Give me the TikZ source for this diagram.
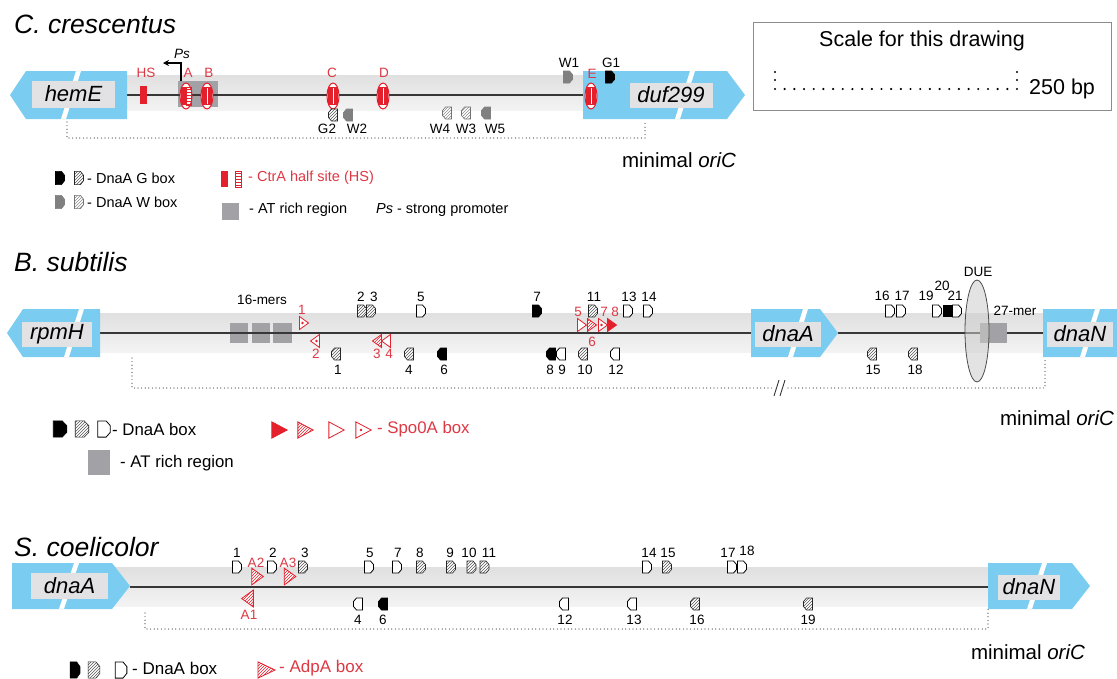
\documentclass[tikz,border=0pt]{standalone}
\usepackage{fontspec}
\setmainfont{Liberation Sans}
\usetikzlibrary{patterns,arrows.meta}
\definecolor{geneblue}{RGB}{122,204,240}
\definecolor{labgray}{RGB}{226,226,228}
\definecolor{bandtop}{RGB}{224,224,224}
\definecolor{bandbot}{RGB}{243,243,243}
\definecolor{atgray}{RGB}{162,162,166}
\definecolor{myred}{RGB}{228,32,44}
\definecolor{redtext}{RGB}{222,56,68}
\definecolor{wgray}{RGB}{128,128,128}
\definecolor{linegray}{RGB}{55,55,55}

\newcommand\bxR[4][]{\draw[#2,shift={(#3,#4)},#1] (-4.5,-6) -- (1.5,-6) -- (4.5,-2.5) -- (4.5,2.5) -- (1.5,6) -- (-4.5,6) -- cycle;}
\newcommand\bxL[4][]{\draw[#2,shift={(#3,#4)},#1] (4.5,-6) -- (-1.5,-6) -- (-4.5,-2.5) -- (-4.5,2.5) -- (-1.5,6) -- (4.5,6) -- cycle;}
\newcommand\trR[4][]{\draw[#2,shift={(#3,#4)},#1] (-4.5,-6.5) -- (4.5,0) -- (-4.5,6.5) -- cycle;}
\newcommand\trL[4][]{\draw[#2,shift={(#3,#4)},#1] (4.5,-6.5) -- (-4.5,0) -- (4.5,6.5) -- cycle;}
\newcommand\tdot[2]{\fill[myred] (#1,#2) circle (1.3pt);}
\newcommand\arrL[4]{\fill[geneblue] (#1,#3) -- ({#1+16},{#3-#4}) -- (#2,{#3-#4}) -- (#2,{#3+#4}) -- ({#1+16},{#3+#4}) -- cycle;}
\newcommand\arrR[4]{\fill[geneblue] (#1,{#3-#4}) -- ({#2-18},{#3-#4}) -- (#2,#3) -- ({#2-18},{#3+#4}) -- (#1,{#3+#4}) -- cycle;}
\newcommand\gcut[3]{\fill[white] (#1,#2) -- ({#1+5},#2) -- ({#1-10},#3) -- ({#1-15},#3) -- cycle;}
\newcommand\ctra[2]{%
  \draw[myred,line width=1pt,fill=white] (#1,#2) ellipse [x radius=6pt,y radius=13pt];
  \fill[myred] ({#1-5},{#2-9}) rectangle ({#1+5},{#2+9});
  \draw[white,line width=0.9pt] (#1,{#2-8}) -- (#1,{#2+8});}
\newcommand\ctraH[2]{%
  \draw[myred,line width=1pt,fill=white] (#1,#2) ellipse [x radius=6pt,y radius=13pt];
  \fill[myred] ({#1-5},{#2-9}) rectangle ({#1-0.5},{#2+9});
  \draw[myred,line width=0.6pt,pattern=horizontal lines,pattern color=myred] ({#1+0.5},{#2-9}) rectangle ({#1+5},{#2+9});}
\newcommand\lb[5][lab]{\node[#1] (#2) at (#3,#4) {#5};}

\begin{document}
\begin{tikzpicture}[x=1pt,y=-1pt,
  title/.style={anchor=base west,inner sep=0,font=\fontsize{26.5}{30}\selectfont\itshape},
  genelab/.style={fill=labgray,inner sep=0,font=\fontsize{22}{26}\selectfont\itshape},
  lab/.style={inner sep=0,font=\fontsize{13.5}{15}\selectfont},
  rlab/.style={lab,text=redtext},
  legC/.style={anchor=west,inner sep=0,font=\fontsize{14.5}{17}\selectfont},
  legB/.style={anchor=west,inner sep=0,font=\fontsize{16.8}{19}\selectfont},
  legS/.style={anchor=west,inner sep=0,font=\fontsize{17}{20}\selectfont},
  mo/.style={inner sep=0,font=\fontsize{20.5}{24}\selectfont},
  scl/.style={inner sep=0,font=\fontsize{21.5}{25}\selectfont},
  dna/.style={linegray,line width=1.6pt},
  dotline/.style={black!75,line width=1.2pt,dash pattern=on 0pt off 3.6pt,line cap=round},
  sA/.style={draw=black,fill=black,line width=0.6pt},
  sH/.style={draw=black!85,line width=0.6pt,preaction={fill=white},pattern=north east lines,pattern color=black!65},
  sO/.style={draw=black,fill=white,line width=0.8pt},
  sW/.style={draw=wgray,fill=wgray,line width=0.6pt},
  sWH/.style={draw=black!55,line width=0.6pt,preaction={fill=white},pattern=north east lines,pattern color=black!45},
  tS/.style={draw=myred,fill=myred,line width=0.8pt},
  tH/.style={draw=myred,line width=0.8pt,preaction={fill=white},pattern=north east lines,pattern color=myred},
  tO/.style={draw=myred,fill=white,line width=0.8pt}]
\useasboundingbox (0,0) rectangle (1117,678);
\clip (0,0) rectangle (1117,678);
\fill[white] (0,0) rectangle (1117,678);

%================ C. crescentus ================
\node[title] (tC) at (14,33) {C. crescentus};
\shade[top color=bandtop,bottom color=bandbot] (120,75) rectangle (590,110);
\fill[atgray] (178,81) rectangle (218,107);
\draw[dna] (127,95) -- (590,95);
\arrL{10}{127}{95}{24}
\gcut{76}{71}{119}
\node[genelab,minimum width=83pt,minimum height=27pt] (hemE) at (73.5,94) {hemE};
\arrR{583}{745}{95}{24}
\gcut{690}{71}{119}
\node[genelab,minimum width=83pt,minimum height=25pt] (duf) at (671,95) {duf299};
\fill[myred] (140,86) rectangle (147,104);
\ctraH{186}{96}
\ctra{207}{96}
\ctra{333}{96}
\ctra{383}{96}
\ctra{591}{96}
\lb[rlab]{cHS}{146}{73}{HS}
\lb[rlab]{cA}{188}{73}{A}
\lb[rlab]{cB}{209}{73}{B}
\lb[rlab]{cC}{332}{73}{C}
\lb[rlab]{cD}{384}{73}{D}
\lb[rlab]{cE}{592}{74}{E}
\draw[black,line width=1.1pt,-{Stealth[length=6pt,width=6pt]}] (181,81) -- (181,63) -- (163,63);
\node[lab,font=\fontsize{13.5}{15}\selectfont\itshape] (Ps) at (182,54) {Ps};
\bxR{sW}{568}{77}
\bxR{sA}{610}{77}
\lb{cW1}{569}{63}{W1}
\lb{cG1}{611}{63}{G1}
\bxL{sH}{333}{115}
\bxL{sW}{348}{115}
\bxL{sWH}{447}{113}
\bxL{sWH}{466}{113}
\bxL{sW}{486}{113}
\lb{cG2}{327}{129}{G2}
\lb{cW2}{357}{129}{W2}
\lb{cW4}{440}{129}{W4}
\lb{cW3}{466}{129}{W3}
\lb{cW5}{495}{129}{W5}
\draw[dotline] (67,122) -- (67,138) -- (645,138) -- (645,120);
\node[mo] (moC) at (679,160) {minimal \textit{oriC}};

% scale box
\draw[black!45,line width=0.8pt] (753,22) rectangle (1111,110);
\node[scl] (sct) at (922,41) {Scale for this drawing};
\foreach \i in {0,...,25} \fill[black] ({775+\i*9.68},89) circle (1.2pt);
\foreach \yy in {72,80} {\fill[black] (775,\yy) circle (1.2pt); \fill[black] (1017,\yy) circle (1.2pt);}
\node[scl,anchor=west] (bp) at (1029,89) {250 bp};

% legend C
\bxR[yscale=1.1]{sA}{60}{178}
\bxR[yscale=1.1]{sH}{79}{178}
\node[legC] (lg1) at (87,178) {- DnaA G box};
\bxR[yscale=1.1]{sW}{60}{202}
\bxR[yscale=1.1]{sWH}{79}{202}
\node[legC] (lg2) at (87,202) {- DnaA W box};
\fill[myred] (221,171) rectangle (228,187);
\draw[myred,line width=0.7pt,pattern=horizontal lines,pattern color=myred] (235,171) rectangle (241,187);
\node[legC,text=redtext] (lg3) at (248,178) {- CtrA half site (HS)};
\fill[atgray] (222,203) rectangle (239,220);
\node[legC] (lg4) at (249,210) {- AT rich region};
\node[legC] (lg5) at (376,210) {\textit{Ps} - strong promoter};

%================ B. subtilis ================
\node[title] (tB) at (14,271) {B. subtilis};
\shade[top color=bandtop,bottom color=bandbot] (100,313) rectangle (1043,352);
\fill[atgray] (230,323) rectangle (248,343);
\fill[atgray] (252,323) rectangle (270,343);
\fill[atgray] (273,323) rectangle (292,343);
\lb{m16}{262}{300}{16-mers}
\draw[dna] (100,333) -- (751,333);
\draw[dna] (838,333) -- (1043,333);
\arrL{7}{100}{333}{24}
\gcut{79}{309}{357}
\node[genelab,minimum width=70pt,minimum height=25pt] (rpmH) at (57,334) {rpmH};
\arrR{751}{838}{333}{24}
\gcut{803}{309}{357}
\node[genelab,minimum width=66pt,minimum height=25pt] (dnaAb) at (788,334) {dnaA};
\arrR{1043}{1140}{333}{24}
\gcut{1095}{309}{357}
\node[genelab,minimum width=66pt,minimum height=25pt] (dnaNb) at (1080,334) {dnaN};
\fill[atgray] (980,323) rectangle (1007,343);
\draw[black!70,line width=0.8pt,fill=gray!40,fill opacity=0.55] (977,331) ellipse [x radius=12pt,y radius=51pt];
\lb{due}{978}{272}{DUE}
\lb{m27}{1015}{311}{27-mer}
% DnaA boxes above
\bxR{sH}{362}{311}
\bxR{sH}{371}{311}
\bxR{sO}{421}{311}
\bxR{sA}{537}{311}
\bxR{sH}{593}{311}
\bxR{sO}{628}{311}
\bxR{sO}{648}{311}
\bxR{sO}{890}{311}
\bxR{sO}{901}{311}
\bxR{sO}{937}{311}
\fill[black] (943,305) rectangle (952,317);
\bxR{sO}{957}{311}
\lb{b2}{361}{297}{2}
\lb{b3}{374}{297}{3}
\lb{b5}{421}{297}{5}
\lb{b7}{537}{297}{7}
\lb{b11}{594}{297}{11}
\lb{b13}{629}{297}{13}
\lb{b14}{649}{297}{14}
\lb{b16}{882}{296}{16}
\lb{b17}{902}{296}{17}
\lb{b19}{926}{296}{19}
\lb{b20}{942}{286}{20}
\lb{b21}{955}{296}{21}
% DnaA boxes below
\bxL{sH}{336}{354}
\bxL{sH}{409}{354}
\bxL{sA}{442}{354}
\bxL{sA}{551}{354}
\bxL{sO}{561}{354}
\bxL{sH}{583}{354}
\bxL{sO}{615}{354}
\bxL{sH}{872}{354}
\bxL{sH}{913}{354}
\lb{b1}{338}{370}{1}
\lb{b4}{409}{370}{4}
\lb{b6}{444}{370}{6}
\lb{b8}{550}{370}{8}
\lb{b9}{562}{370}{9}
\lb{b10}{585}{370}{10}
\lb{b12}{616}{370}{12}
\lb{b15}{873}{370}{15}
\lb{b18}{915}{370}{18}
% Spo0A boxes
\trR{tO}{304}{323} \tdot{302.5}{323}
\trL{tO}{315}{341} \tdot{316.5}{341}
\trL{tH}{377}{341}
\trL{tO}{386}{341}
\trR{tO}{582}{325}
\trR{tH}{592}{325}
\trR{tO}{603}{325} \tdot{601.5}{325}
\trR{tS}{612}{325}
\lb[rlab]{r1}{302}{310}{1}
\lb[rlab]{r2}{316}{354}{2}
\lb[rlab]{r3}{377}{354}{3}
\lb[rlab]{r4}{389}{354}{4}
\lb[rlab]{r5}{578}{312}{5}
\lb[rlab]{r6}{592}{342}{6}
\lb[rlab]{r7}{604}{312}{7}
\lb[rlab]{r8}{615}{312}{8}
% bracket
\draw[dotline] (132,358) -- (132,388) -- (772,388);
\draw[dotline] (788,388) -- (1045,388) -- (1045,358);
\draw[black!80,line width=0.9pt] (774,396) -- (779,380) (780,396) -- (785,380);
\node[mo] (moB) at (1057,418) {minimal \textit{oriC}};
% legend B
\bxR[xscale=1.5,yscale=1.35]{sA}{60}{429}
\bxR[xscale=1.5,yscale=1.35]{sH}{82}{429}
\bxR[xscale=1.4,yscale=1.35]{sO}{104}{429}
\node[legB] (lb1) at (112,429) {- DnaA box};
\fill[atgray] (88,450) rectangle (110,475);
\node[legB] (lb2) at (120,463) {- AT rich region};
\trR[xscale=1.7,yscale=1.25]{tS}{279.5}{430}
\trR[xscale=1.7,yscale=1.25]{tH}{305.5}{430}
\trR[xscale=1.7,yscale=1.25]{tO}{336.5}{430}
\trR[xscale=1.7,yscale=1.25]{tO}{363.5}{430} \tdot{361}{430}
\node[legB,text=redtext] (lb3) at (377,429) {- Spo0A box};

%================ S. coelicolor ================
\node[title] (tS) at (14,556) {S. coelicolor};
\shade[top color=bandtop,bottom color=bandbot] (110,567) rectangle (990,606);
\draw[dna] (130,587) -- (988,587);
\arrR{12}{130}{586}{23}
\gcut{74}{563}{609}
\node[genelab,minimum width=77pt,minimum height=26pt] (dnaAs) at (69.5,586) {dnaA};
\arrR{988}{1090}{586}{23}
\gcut{1042}{563}{609}
\node[genelab,minimum width=62pt,minimum height=25pt] (dnaNs) at (1029,587) {dnaN};
% boxes above
\bxR{sO}{237}{567}
\bxR{sO}{272}{567}
\bxR{sH}{303}{567}
\bxR{sO}{369}{567}
\bxR{sO}{397}{567}
\bxR{sH}{421}{567}
\bxR{sH}{451}{567}
\bxR{sH}{471.5}{567}
\bxR{sH}{484.5}{567}
\bxR{sO}{647}{567}
\bxR{sH}{667}{567}
\bxR{sO}{732}{567}
\bxR{sO}{742}{567}
\lb{s1}{237}{553}{1}
\lb{s2}{273}{553}{2}
\lb{s3}{305}{553}{3}
\lb{s5}{370}{553}{5}
\lb{s7}{398}{553}{7}
\lb{s8}{420}{553}{8}
\lb{s9}{450}{553}{9}
\lb{s10}{469}{553}{10}
\lb{s11}{489}{553}{11}
\lb{s14}{649}{553}{14}
\lb{s15}{668}{553}{15}
\lb{s17}{728}{553}{17}
\lb{s18}{747}{551}{18}
% boxes below
\bxL{sO}{358}{604}
\bxL{sA}{383}{604}
\bxL{sO}{564}{604}
\bxL{sO}{632}{604}
\bxL{sH}{695}{604}
\bxL{sH}{808}{604}
\lb{s4}{358}{620}{4}
\lb{s6}{383}{620}{6}
\lb{s12}{565}{620}{12}
\lb{s13}{634}{620}{13}
\lb{s16}{697}{620}{16}
\lb{s19}{808}{620}{19}
% AdpA
\trR[scale=1.3]{tH}{257.5}{576.5}
\trR[scale=1.3]{tH}{290}{576.5}
\trL[scale=1.3]{tH}{247.5}{598.5}
\lb[rlab]{sA2}{256}{563}{A2}
\lb[rlab]{sA3}{288}{563}{A3}
\lb[rlab]{sA1}{249}{615}{A1}
\draw[dotline] (145,613) -- (145,629) -- (988,629) -- (988,609);
\node[mo] (moS) at (1028,652) {minimal \textit{oriC}};
% legend S
\bxR[xscale=1.1,yscale=1.35]{sA}{75}{670}
\bxR[xscale=1.3,yscale=1.35]{sH}{94}{670}
\bxR[xscale=1.3,yscale=1.35]{sO}{121}{670}
\node[legS] (ls1) at (132,668) {- DnaA box};
\trR[xscale=1.9,yscale=1.25]{tH}{266.5}{670}
\node[legS,text=redtext] (ls2) at (279,668) {- AdpA box};
\end{tikzpicture}
\end{document}
